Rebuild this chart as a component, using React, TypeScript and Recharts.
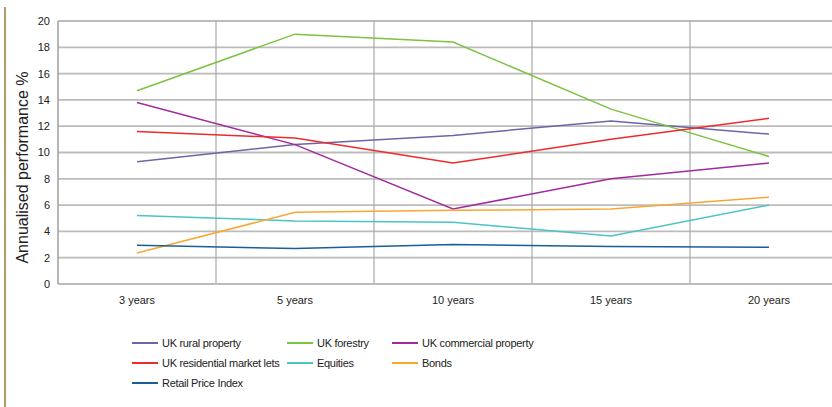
import React from "react";
import { LineChart, Line, XAxis, YAxis, CartesianGrid } from "recharts";

const periods = ["3 years", "5 years", "10 years", "15 years", "20 years"];

const ukRural = [9.3, 10.6, 11.3, 12.4, 11.4];
const ukForestry = [14.7, 19.0, 18.4, 13.3, 9.7];
const ukCommercial = [13.8, 10.6, 5.7, 8.0, 9.2];
const ukResidential = [11.6, 11.1, 9.2, 11.0, 12.6];
const equities = [5.2, 4.8, 4.7, 3.65, 6.0];
const bonds = [2.35, 5.45, 5.6, 5.7, 6.6];
const rpi = [2.95, 2.7, 3.0, 2.85, 2.8];

const yTicks = [0, 2, 4, 6, 8, 10, 12, 14, 16, 18, 20];
const categoryTicks = [0, 1, 2, 3, 4];
const boundaryTicks = [0.5, 1.5, 2.5, 3.5, 4.5];

const series = [
  { key: "rural", name: "UK rural property", color: "#6b66a6", values: ukRural },
  { key: "forestry", name: "UK forestry", color: "#7dc242", values: ukForestry },
  { key: "commercial", name: "UK commercial property", color: "#a12a9f", values: ukCommercial },
  { key: "residential", name: "UK residential market lets", color: "#ee2b2b", values: ukResidential },
  { key: "equities", name: "Equities", color: "#4cc4c4", values: equities },
  { key: "bonds", name: "Bonds", color: "#f8a832", values: bonds },
  { key: "rpi", name: "Retail Price Index", color: "#1b5e96", values: rpi },
];

const data = periods.map((label, i) => {
  const row: Record<string, string | number> = { idx: i, label };
  series.forEach((s) => {
    row[s.key] = s.values[i];
  });
  return row;
});

const FONT = "'Liberation Sans', Arial, sans-serif";
const GRID = "#bcbcbc";

function LegendBox() {
  const cols = [155, 105, 200];
  return (
    <div
      style={{
        position: "absolute",
        left: 132,
        top: 336,
        display: "grid",
        gridTemplateColumns: cols.map((c) => c + "px").join(" "),
        rowGap: 6,
        fontFamily: FONT,
        fontSize: 11,
        letterSpacing: -0.3,
        color: "#222",
      }}
    >
      {series.map((s) => (
        <div
          key={s.key}
          style={{ display: "flex", alignItems: "center", height: 14, whiteSpace: "nowrap" }}
        >
          <span
            style={{
              display: "inline-block",
              width: 26,
              height: 2,
              background: s.color,
              marginRight: 4,
            }}
          />
          <span>{s.name}</span>
        </div>
      ))}
    </div>
  );
}

export default function App() {
  return (
    <div
      style={{
        position: "fixed",
        left: 0,
        top: 0,
        width: 832,
        height: 407,
        overflow: "hidden",
        background: "#fff",
      }}
    >
      <div
        style={{
          position: "absolute",
          left: 4,
          top: 7,
          width: 2,
          height: 400,
          background: "#b39a6e",
        }}
      />
      <LineChart
        width={860}
        height={407}
        data={data}
        margin={{ top: 20, right: 12, left: 0, bottom: 93 }}
      >
        <XAxis
          xAxisId="grid"
          orientation="top"
          type="number"
          dataKey="idx"
          domain={[-0.5, 4.5]}
          ticks={boundaryTicks}
          height={1}
          tick={() => null}
          tickLine={false}
          axisLine={false}
        />
        <XAxis
          type="number"
          dataKey="idx"
          domain={[-0.5, 4.5]}
          ticks={categoryTicks}
          tickFormatter={(i: number) => periods[i]}
          height={30}
          tickSize={0}
          tickMargin={12}
          interval={0}
          tick={{ fontSize: 11, fill: "#222", fontFamily: FONT }}
          axisLine={{ stroke: GRID, strokeWidth: 1.8 }}
        />
        <YAxis
          domain={[0, 20]}
          ticks={yTicks}
          width={58}
          tickSize={0}
          tickMargin={8}
          tick={{ fontSize: 11, fill: "#222", fontFamily: FONT }}
          axisLine={{ stroke: "#a8a8a8", strokeWidth: 1.2 }}
          label={{
            value: "Annualised performance %",
            angle: -90,
            position: "center",
            dx: -7,
            dy: 15,
            style: { fontSize: 16, fill: "#222", fontFamily: FONT },
          }}
        />
        <CartesianGrid vertical={false} stroke={GRID} strokeWidth={1.8} />
        <CartesianGrid
          xAxisId="grid"
          horizontal={false}
          stroke="#a8a8a8"
          strokeWidth={1.2}
        />
        {series.map((s) => (
          <Line
            key={s.key}
            type="linear"
            dataKey={s.key}
            name={s.name}
            stroke={s.color}
            strokeWidth={1.5}
            dot={false}
            activeDot={false}
            isAnimationActive={false}
          />
        ))}
      </LineChart>
      <LegendBox />
    </div>
  );
}
